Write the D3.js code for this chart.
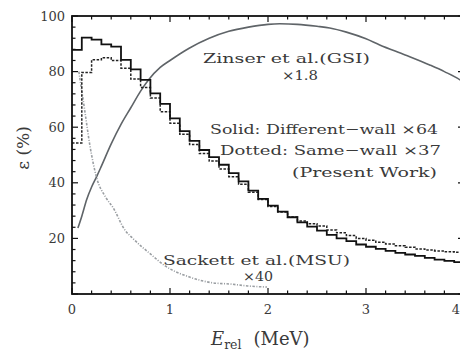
<!DOCTYPE html>
<html><head><meta charset="utf-8">
<script src="https://cdn.jsdelivr.net/npm/d3@7"></script>
<style>
body{margin:0;background:#fff;}
svg{display:block;}
text{font-family:"DejaVu Serif","Liberation Serif",serif;fill:#3a3a3a;}
</style></head>
<body><svg id="c" width="460" height="354"></svg>
<script>
// ---- data ----
const binWidth = 0.1;
const solidDifferentWall = [87.8,92.2,91.5,89.8,89.0,84.2,80.8,77.0,72.2,68.4,
  63.2,58.6,55.1,51.8,49.2,46.5,43.5,40.5,37.2,34.2,
  31.8,29.6,27.6,25.8,24.2,22.8,21.3,20.0,19.0,17.8,
  17.0,16.2,15.5,14.8,14.2,13.7,13.0,12.4,11.9,11.5];
const dottedSameWall = [54.3,79.7,84.3,85.0,84.0,81.2,77.3,74.3,70.5,65.6,
  61.4,57.5,53.8,50.5,47.8,45.0,42.2,39.5,36.6,34.0,
  31.5,29.5,27.7,26.3,25.3,24.5,23.0,22.0,21.0,20.0,
  19.3,18.6,18.0,17.4,16.8,16.2,15.8,15.5,15.2,15.0];
const zinserX = [0.06,0.1,0.15,0.2,0.255,0.3,0.4,0.5,0.6,0.7,0.78,0.9,1.0,1.2,1.4,1.6,1.8,2.0,2.12,2.3,2.5,2.63,2.8,3.0,3.14,3.4,3.65,3.8,3.96,4.0];
const zinserY = [23.7,28,34,38.5,42.5,46,54,61,67,73,77,81.5,84,88.5,92,94.5,96,97,97.2,97,96.3,95.7,94.2,91.8,89.6,86,82.4,80,77,76];
const sackettX = [0.07,0.13,0.18,0.25,0.34,0.42,0.54,0.62,0.8,0.95,1.2,1.44,1.61,1.79,1.99];
const sackettY = [80,66,54,42,35,31,23,20,14.4,10.1,6.1,4.0,3.6,2.9,2.5];
const xTickLabels = ["0","1","2","3","4"];
const yTickLabels = ["20","40","60","80","100"];

// ---- layout ----
const svg = d3.select("#c");
const x = d3.scaleLinear().domain([0,4]).range([72,464]);
const y = d3.scaleLinear().domain([0,100]).range([294,16]);

function stepData(vals){
  const d = vals.map((v,i)=>[i*binWidth, v]);
  d.push([vals.length*binWidth, vals[vals.length-1]]);
  return d;
}
const stepLine = d3.line().x(d=>x(d[0])).y(d=>y(d[1])).curve(d3.curveStepAfter);
const smooth = d3.line().x(d=>x(d[0])).y(d=>y(d[1])).curve(d3.curveMonotoneX);

svg.append("path").attr("d", smooth(zinserX.map((v,i)=>[v,zinserY[i]])))
  .attr("fill","none").attr("stroke","#5f6468").attr("stroke-width",1.6);
svg.append("path").attr("d", smooth(sackettX.map((v,i)=>[v,sackettY[i]])))
  .attr("fill","none").attr("stroke","#9a9ea2").attr("stroke-width",1.6)
  .attr("stroke-dasharray","2.5,1.5,1,1.5");
svg.append("path").attr("d", stepLine(stepData(dottedSameWall)))
  .attr("fill","none").attr("stroke","#222").attr("stroke-width",1.5)
  .attr("stroke-dasharray","2.5,1.5");
svg.append("path").attr("d", stepLine(stepData(solidDifferentWall)))
  .attr("fill","none").attr("stroke","#111").attr("stroke-width",1.8);

// frame
const [x0,x1] = x.range(), [y0,y1] = y.range();
svg.append("rect").attr("x",x0).attr("y",y1).attr("width",x1-x0).attr("height",y0-y1)
  .attr("fill","none").attr("stroke","#111").attr("stroke-width",1.8);

// ticks
const g = svg.append("g").attr("stroke","#111").attr("stroke-width",1.2);
const xMajor = d3.range(0,4.01,1), xMinor = d3.range(0,4.01,0.2);
const yMajor = d3.range(0,100.1,20), yMinor = d3.range(0,100.1,4);
xMinor.forEach(v=>{
  const L = xMajor.some(m=>Math.abs(m-v)<1e-6)?6:3.5;
  g.append("line").attr("x1",x(v)).attr("x2",x(v)).attr("y1",y0).attr("y2",y0-L);
  g.append("line").attr("x1",x(v)).attr("x2",x(v)).attr("y1",y1).attr("y2",y1+L);
});
yMinor.forEach(v=>{
  const L = yMajor.some(m=>Math.abs(m-v)<1e-6)?6:3.5;
  g.append("line").attr("y1",y(v)).attr("y2",y(v)).attr("x1",x0).attr("x2",x0+L);
  g.append("line").attr("y1",y(v)).attr("y2",y(v)).attr("x1",x1).attr("x2",x1-L);
});

// tick labels
xTickLabels.forEach(t=>{
  const last = (+t === 4);
  svg.append("text").attr("x", last ? 460 : x(+t)).attr("y",314)
    .attr("text-anchor", last ? "end" : "middle")
    .attr("font-size",13).text(t);
});
yTickLabels.forEach(t=>{
  svg.append("text").attr("x",65).attr("y",y(+t)+4.5).attr("text-anchor","end")
    .attr("font-size",13).text(t);
});

// axis titles
svg.append("text").attr("transform","translate(29,148) rotate(-90)")
  .attr("text-anchor","middle").attr("font-size",17).text("ε (%)");
const xt = svg.append("text").attr("x",211).attr("y",345).attr("font-size",18);
xt.append("tspan").attr("font-style","italic").text("E");
xt.append("tspan").attr("font-size",12.5).attr("dy",4).text("rel");
xt.append("tspan").attr("dy",-4).attr("dx",12).text("(MeV)");

// annotations
function ann(txt, xx, yy, len){
  svg.append("text").attr("x",xx).attr("y",yy).attr("font-size",13.5)
    .attr("textLength",len).attr("lengthAdjust","spacingAndGlyphs").text(txt);
}
ann("Zinser et al.(GSI)", 203, 63, 167);
ann("×1.8", 282, 80, 36);
ann("Solid: Different−wall ×64", 210, 134, 228);
ann("Dotted: Same−wall ×37", 220, 155, 221);
ann("(Present Work)", 292, 177, 145);
ann("Sackett et al.(MSU)", 163, 265, 187);
ann("×40", 243, 281, 30);
</script></body></html>
